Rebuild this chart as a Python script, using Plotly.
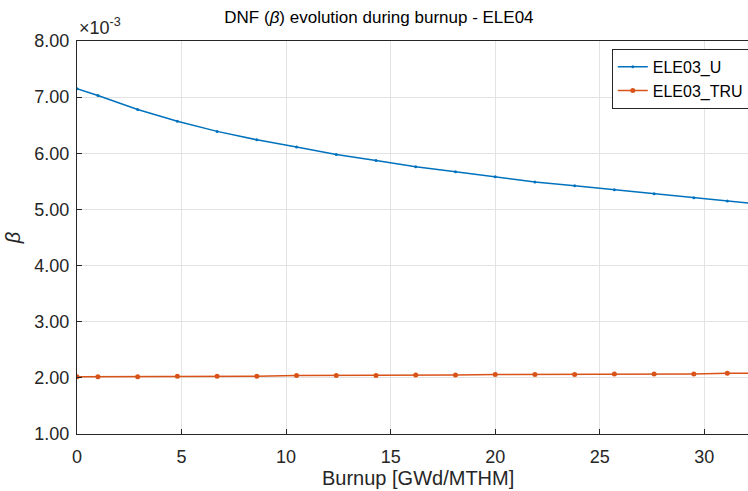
import plotly.graph_objects as go

# Burnup [GWd/MTHM]
burnup = [0, 1.0, 2.9, 4.8, 6.7, 8.6, 10.5, 12.4, 14.3, 16.2, 18.1, 20.0,
          21.9, 23.8, 25.7, 27.6, 29.5, 31.1, 33.0]
# beta values in units of 1e-3
beta_U = [7.15, 7.03, 6.78, 6.57, 6.39, 6.24, 6.11, 5.98, 5.87, 5.76, 5.67,
          5.58, 5.49, 5.42, 5.35, 5.28, 5.21, 5.15, 5.08]
beta_TRU = [2.02, 2.02, 2.02, 2.03, 2.03, 2.03, 2.04, 2.04, 2.04, 2.05, 2.05,
            2.06, 2.06, 2.06, 2.07, 2.07, 2.07, 2.08, 2.08]
y_ticks = [1, 2, 3, 4, 5, 6, 7, 8]
x_ticks = [0, 5, 10, 15, 20, 25, 30]

FONT = "Liberation Sans, Arial, Helvetica, sans-serif"

fig = go.Figure()
fig.add_trace(go.Scatter(x=burnup, y=beta_U, mode="lines+markers", name="ELE03_U",
                         line=dict(color="#0072BD", width=1.5),
                         marker=dict(color="#0072BD", size=3)))
fig.add_trace(go.Scatter(x=burnup, y=beta_TRU, mode="lines+markers", name="ELE03_TRU",
                         line=dict(color="#D95319", width=1.5),
                         marker=dict(color="#D95319", size=5)))

fig.update_layout(
    width=748, height=491,
    margin=dict(l=77, r=0, t=41, b=57, autoexpand=False),
    paper_bgcolor="white", plot_bgcolor="white",
    font=dict(family=FONT, color="#262626"),
    title=dict(text="DNF (<i>β</i>) evolution during burnup - ELE04",
               x=0.45, xanchor="center", y=0.965, yanchor="middle",
               xref="paper",
               font=dict(size=17, color="#000000")),
    legend=dict(x=0.797, y=0.98, xanchor="left", yanchor="top",
                xref="paper", yref="paper",
                bgcolor="white", bordercolor="#262626", borderwidth=1,
                font=dict(size=16, color="#000000"),
                tracegroupgap=0, itemwidth=30),
    showlegend=True,
)
fig.update_xaxes(range=[0, 32.09], tickvals=x_ticks, ticks="inside", ticklen=5,
                 tickcolor="#262626", showline=True, linecolor="#262626",
                 linewidth=1, mirror=True, showgrid=True, gridcolor="#E3E3E3",
                 zeroline=False, tickfont=dict(size=18), automargin=False,
                 ticklabelstandoff=6)
fig.update_yaxes(range=[1, 8], tickvals=y_ticks,
                 ticktext=[f"{v:.2f}" for v in y_ticks],
                 ticks="inside", ticklen=5, tickcolor="#262626",
                 showline=True, linecolor="#262626", linewidth=1,
                 showgrid=True, gridcolor="#E3E3E3", zeroline=False,
                 tickfont=dict(size=18), automargin=False,
                 ticklabelstandoff=3,
                 title=dict(text="<i>β</i>", font=dict(size=20), standoff=8))
fig.add_annotation(text="×10<sup>-3</sup>", xref="paper", yref="paper",
                   x=0.0, y=1.0, xanchor="left", yanchor="bottom",
                   showarrow=False, font=dict(size=18, color="#262626"),
                   xshift=0, yshift=1)
fig.add_annotation(text="Burnup [GWd/MTHM]", xref="paper", yref="paper",
                   x=0.508, y=0.0, xanchor="center", yanchor="middle",
                   showarrow=False, font=dict(size=20, color="#262626"),
                   yshift=-44)

fig.write_html("out.html",
               config={"displayModeBar": False},
               post_script="document.body.style.margin='0';"
                           "document.body.style.overflow='hidden';")
